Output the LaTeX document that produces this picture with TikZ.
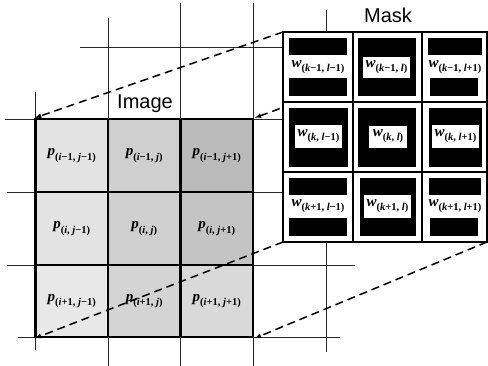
\documentclass[tikz,border=0pt]{standalone}
\usepackage{fontspec}
\newfontfamily\sansf{Liberation Sans}
\newfontfamily\tnr{Liberation Serif}
\usetikzlibrary{arrows.meta}
\newcommand{\mn}{\char"2212\relax}
\newcommand{\labp}[2]{{\tnr\bfseries\itshape\fontsize{15}{15}\selectfont #1}\raisebox{-0.42em}{\tnr\bfseries\fontsize{10.5}{10.5}\selectfont(#2)}}
\begin{document}
\begin{tikzpicture}[x=1pt,y=-1pt,
  gridline/.style={line width=0.9pt, black!85},
  pcell/.style={draw, line width=2.4pt, minimum width=72.5pt, minimum height=72.5pt, inner sep=0pt},
  mcellframe/.style={draw, line width=2.4pt},
  blk/.style={fill=black},
  wbox/.style={fill=white},
  wlab/.style={inner sep=0pt},
  dashline/.style={line width=1.5pt, dash pattern=on 8pt off 5pt, -{Latex[length=7pt,width=5pt]}},
  title/.style={font=\sansf\fontsize{20}{20}\selectfont, inner sep=0pt}
]
\useasboundingbox (0,0) rectangle (488,366);

% thin background grid
\draw[gridline] (35.5,92) -- (35.5,350);
\draw[gridline] (108,18) -- (108,366);
\draw[gridline] (180.5,3) -- (180.5,366);
\draw[gridline] (253,3) -- (253,366);
\draw[gridline] (326,10) -- (326,352);
\draw[gridline] (80,47) -- (300,47);
\draw[gridline] (5,119) -- (300,119);
\draw[gridline] (7,192) -- (300,192);
\draw[gridline] (7,265) -- (355,265);
\draw[gridline] (18,337) -- (340,337);

% image cells
\node[pcell, fill=black!11] (p11) at (71.75,155.5) {\labp{p}{\textit{i}\mn{}1, \textit{j}\mn{}1}};
\node[pcell, fill=black!19] (p12) at (144.25,155.5) {\labp{p}{\textit{i}\mn{}1, \textit{j}}};
\node[pcell, fill=black!27] (p13) at (216.75,155.5) {\labp{p}{\textit{i}\mn{}1, \textit{j}+1}};
\node[pcell, fill=black!11] (p21) at (71.75,228.5) {\labp{p}{\textit{i}, \textit{j}\mn{}1}};
\node[pcell, fill=black!19] (p22) at (144.25,228.5) {\labp{p}{\textit{i}, \textit{j}}};
\node[pcell, fill=black!23] (p23) at (216.75,228.5) {\labp{p}{\textit{i}, \textit{j}+1}};
\node[pcell, fill=black!9] (p31) at (71.75,301) {\labp{p}{\textit{i}+1, \textit{j}\mn{}1}};
\node[pcell, fill=black!17] (p32) at (144.25,301) {\labp{p}{\textit{i}+1, \textit{j}}};
\node[pcell, fill=black!15] (p33) at (216.75,301) {\labp{p}{\textit{i}+1, \textit{j}+1}};

\node[title] (imgt) at (145,104) {Image};

% mask corners
\coordinate (MTL) at (283,32);
\coordinate (MTR) at (487,32);
\coordinate (MBL) at (283,242);
\coordinate (MBR) at (487,242);

% dashed projection lines
\draw[dashline] (MTL) -- (p11.north west);
\draw[dashline] (MTR) -- (p13.north east);
\draw[dashline] (MBL) -- (p31.south west);
\draw[dashline] (MBR) -- (p33.south east);

% mask background
\fill[white] (MTL) rectangle (MBR);

% row 1 (y 32-102)
\fill[blk] (289,38) rectangle (347,55);
\fill[blk] (289,78) rectangle (347,96);
\node[wlab] (w11) at (318,67) {\labp{w}{\textit{k}\mn{}1, \textit{l}\mn{}1}};
\fill[blk] (358,38) rectangle (416,96);
\fill[wbox] (363,57) rectangle (410,78);
\node[wlab] (w12) at (386.5,67) {\labp{w}{\textit{k}\mn{}1, \textit{l}}};
\fill[blk] (428,38) rectangle (482,55);
\fill[blk] (430,78) rectangle (478,96);
\node[wlab] (w13) at (455,67) {\labp{w}{\textit{k}\mn{}1, \textit{l}+1}};

% row 2 (y 102-172)
\fill[blk] (289,108) rectangle (348,167);
\fill[wbox] (295,125) rectangle (342,148);
\node[wlab] (w21) at (318.5,136) {\labp{w}{\textit{k}, \textit{l}\mn{}1}};
\fill[blk] (358,108) rectangle (416,167);
\fill[wbox] (369,126) rectangle (407,148);
\node[wlab] (w22) at (388,136) {\labp{w}{\textit{k}, \textit{l}}};
\fill[blk] (429,108) rectangle (482,167);
\fill[wbox] (432,125) rectangle (479,148);
\node[wlab] (w23) at (455.5,136) {\labp{w}{\textit{k}, \textit{l}+1}};

% row 3 (y 172-242)
\fill[blk] (289,178) rectangle (347,195);
\fill[blk] (289,218) rectangle (347,236);
\node[wlab] (w31) at (318,206) {\labp{w}{\textit{k}+1, \textit{l}\mn{}1}};
\fill[blk] (360,178) rectangle (416,236);
\fill[wbox] (364,195) rectangle (411,218);
\node[wlab] (w32) at (387.5,206) {\labp{w}{\textit{k}+1, \textit{l}}};
\fill[blk] (429,178) rectangle (481,195);
\fill[blk] (430,218) rectangle (478,236);
\node[wlab] (w33) at (455,206) {\labp{w}{\textit{k}+1, \textit{l}+1}};

% mask frame
\draw[mcellframe] (MTL) rectangle (MBR);
\draw[mcellframe] (353,32) -- (353,242);
\draw[mcellframe] (422,32) -- (422,242);
\draw[mcellframe] (283,102) -- (487,102);
\draw[mcellframe] (283,172) -- (487,172);

\node[title] (maskt) at (388,15) {Mask};
\end{tikzpicture}
\end{document}
